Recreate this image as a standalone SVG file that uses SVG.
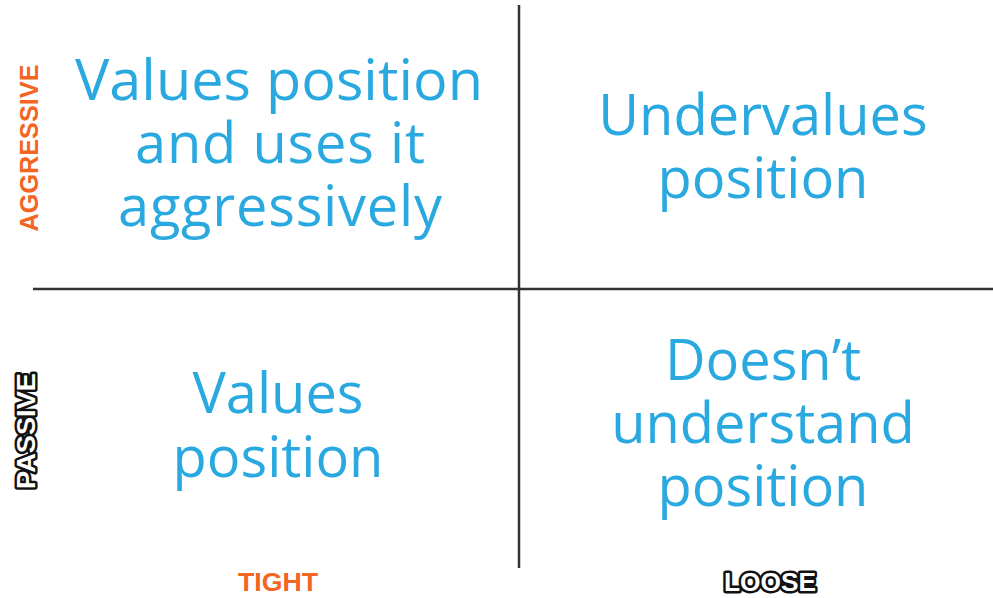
<svg xmlns="http://www.w3.org/2000/svg" width="993" height="598" viewBox="0 0 993 598">
<style>
.q{font-family:"Open Sans","DejaVu Sans",sans-serif;font-size:56px;fill:#2aa9e0;text-anchor:middle}
.ax{font-family:"Liberation Sans Narrow","Liberation Sans",sans-serif;font-weight:bold;font-size:26px;text-anchor:middle}
.or{fill:#f26522}
.ol{fill:#ffffff;stroke:#111;stroke-width:5;paint-order:stroke;stroke-linejoin:round}
.ln{stroke:#333;stroke-width:2.5}
</style>
<rect width="993" height="598" fill="#fff"/>
<g id="connectors">
<line class="ln" x1="519" y1="5" x2="519" y2="568"/>
<line class="ln" x1="33" y1="289" x2="993" y2="289"/>
</g>
<g id="q-tl">
<text class="q" x="279" y="100" textLength="408" lengthAdjust="spacingAndGlyphs">Values position</text>
<text class="q" x="280" y="163" textLength="290" lengthAdjust="spacing">and uses it</text>
<text class="q" x="280" y="226" textLength="324" lengthAdjust="spacing">aggressively</text>
</g>
<g id="q-tr">
<text class="q" x="763" y="135">Undervalues</text>
<text class="q" x="763" y="198">position</text>
</g>
<g id="q-bl">
<text class="q" x="278" y="413">Values</text>
<text class="q" x="278" y="477">position</text>
</g>
<g id="q-br">
<text class="q" x="763" y="380">Doesn’t</text>
<text class="q" x="763" y="443">understand</text>
<text class="q" x="763" y="506">position</text>
</g>
<g id="label-aggressive">
<text class="ax or" transform="translate(38,148) rotate(-90)" textLength="167" lengthAdjust="spacingAndGlyphs">AGGRESSIVE</text>
</g>
<g id="label-passive">
<text class="ax ol" transform="translate(35,431) rotate(-90)" textLength="116" lengthAdjust="spacingAndGlyphs">PASSIVE</text>
</g>
<g id="label-tight">
<text class="ax or" x="278" y="591" textLength="80" lengthAdjust="spacingAndGlyphs">TIGHT</text>
</g>
<g id="label-loose">
<text class="ax ol" x="770" y="591" textLength="92" lengthAdjust="spacingAndGlyphs">LOOSE</text>
</g>
</svg>
